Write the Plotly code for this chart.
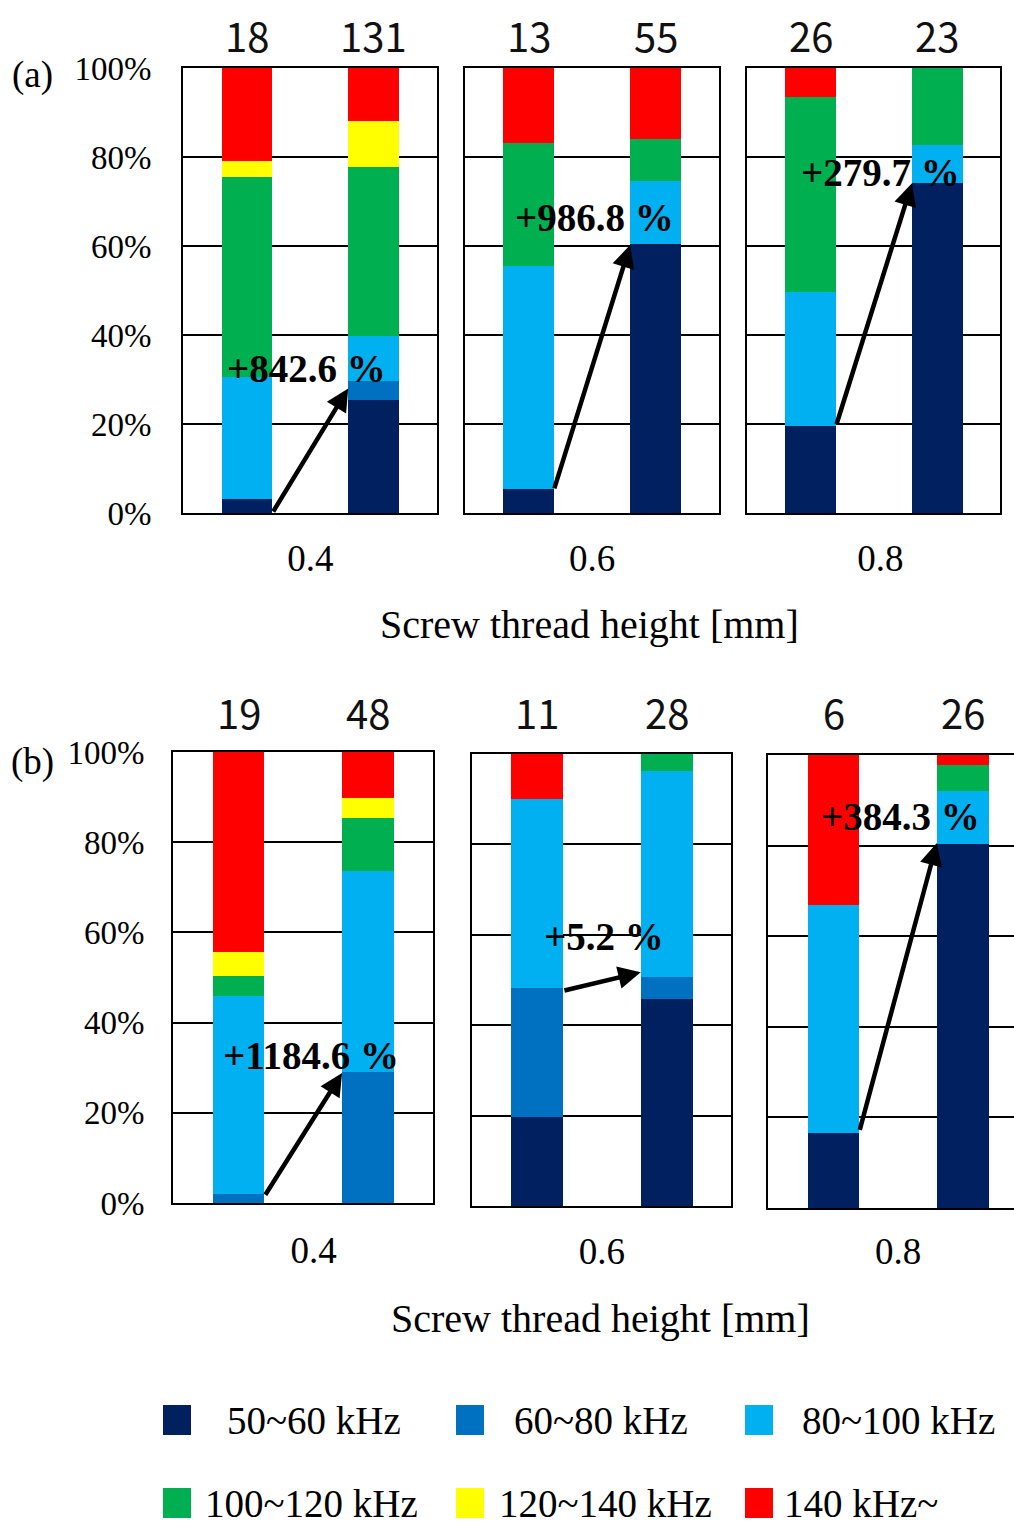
import plotly.graph_objects as go

# ---------------- data ----------------
bands = ["50~60 kHz", "60~80 kHz", "80~100 kHz", "100~120 kHz", "120~140 kHz", "140 kHz~"]
colors = ["#002060", "#0070C0", "#00B0F0", "#00B050", "#FFFF00", "#FF0000"]
thread_heights = ["0.4", "0.6", "0.8"]
row_tags = ["(a)", "(b)"]
x_title = "Screw thread height [mm]"

# share [%] per band; order: (a)0.4 L, R, (a)0.6 L, R, (a)0.8 L, R, (b)0.4 L, R, (b)0.6 L, R, (b)0.8 L, R
share_50_60 = [3.1, 25.5, 5.5, 60.4, 19.6, 74.1, 0.0, 0.0, 19.8, 45.9, 16.5, 80.4]
share_60_80 = [0.0, 4.1, 0.0, 0.0, 0.0, 0.0, 2.1, 29.0, 28.5, 4.8, 0.0, 0.0]
share_80_100 = [27.5, 10.2, 50.1, 14.3, 30.0, 8.6, 43.8, 44.6, 41.8, 45.6, 50.3, 11.7]
share_100_120 = [44.8, 37.9, 27.6, 9.3, 43.8, 17.3, 4.5, 11.8, 0.0, 3.7, 0.0, 5.6]
share_120_140 = [3.6, 10.4, 0.0, 0.0, 0.0, 0.0, 5.2, 4.5, 0.0, 0.0, 0.0, 0.0]
share_140_up = [21.0, 11.9, 16.8, 16.0, 6.6, 0.0, 44.4, 10.1, 9.9, 0.0, 33.2, 2.3]
band_shares = [share_50_60, share_60_80, share_80_100, share_100_120, share_120_140, share_140_up]

counts = [18, 131, 13, 55, 26, 23, 19, 48, 11, 28, 6, 26]
change_labels = ["+842.6 %", "+986.8 %", "+279.7 %", "+1184.6 %", "+5.2 %", "+384.3 %"]
arrow_from = [0.0, 5.2, 19.6, 1.5, 47.6, 16.9]   # % level at left bar
arrow_to = [28.0, 60.2, 74.1, 28.8, 51.7, 80.6]   # % level at right bar

# ---------------- layout constants ----------------
W, H = 1014, 1528
def fx(px):
    return px / W
def fy(py):
    return 1 - py / H

# panel frames in pixels: (x0, x1, ytop, ybottom)
frames = [(183, 437, 68, 513), (465, 719, 68, 513), (747, 1000, 68, 513),
          (173, 433, 752, 1203), (472, 731, 754, 1206), (768, 1014, 755, 1208)]
xranges = [[-0.506, 1.502], [-0.5, 1.5], [-0.504, 1.496],
           [-0.506, 1.502], [-0.501, 1.496], [-0.507, 1.397]]
tick_pos = [0.5, 0.5, 0.55, 0.58, 0.5, 0.5]
xtick_standoff = [12, 12, 12, 14, 12, 10]
label_pos = [(0.474, 32.4), (0.516, 66.3), (0.548, 76.6), (0.56, 32.6), (0.517, 59.7), (0.522, 86.4)]
bar_w = 0.4
serif = "Liberation Serif, Times New Roman, serif"

fig = go.Figure()
for p in range(6):
    sfx = "" if p == 0 else str(p + 1)
    for b in range(6):
        fig.add_trace(go.Bar(
            x=[0, 1], y=band_shares[b][2 * p:2 * p + 2], name=bands[b],
            marker=dict(color=colors[b], line=dict(width=0)),
            width=bar_w, xaxis="x" + sfx, yaxis="y" + sfx,
            showlegend=False))

layout = dict(template="none", width=W, height=H, autosize=False,
              margin=dict(l=0, r=0, t=0, b=0, pad=0),
              paper_bgcolor="white", plot_bgcolor="white",
              barmode="stack", showlegend=False,
              font=dict(family=serif, color="black"))
annotations = []
shapes = []
for p in range(6):
    sfx = "" if p == 0 else str(p + 1)
    x0, x1, yt, yb = frames[p]
    left = p in (0, 3)
    layout["xaxis" + sfx] = dict(
        domain=[fx(x0), fx(x1)], range=xranges[p], anchor="y" + sfx, automargin=False,
        showgrid=False, zeroline=False, showline=True, linecolor="black", linewidth=2,
        mirror=True, ticks="", tickvals=[tick_pos[p]], ticktext=[thread_heights[p % 3]],
        tickfont=dict(family=serif, size=37, color="black"),
        ticklabelstandoff=xtick_standoff[p], fixedrange=True)
    layout["yaxis" + sfx] = dict(
        domain=[fy(yb), fy(yt)], range=[0, 100], anchor="x" + sfx, automargin=False,
        tickvals=[0, 20, 40, 60, 80, 100], ticktext=[f"{v}%" for v in range(0, 101, 20)],
        showticklabels=left, ticks="",
        tickfont=dict(family=serif, size=33, color="black"),
        ticklabelstandoff=(23 if p == 0 else 20),
        showgrid=True, gridcolor="black", gridwidth=2, zeroline=False,
        showline=True, linecolor="black", linewidth=2, mirror=(p != 5),
        fixedrange=True)
    xr = "x" + sfx
    yr = "y" + sfx
    # counts above bars
    for k in range(2):
        annotations.append(dict(
            x=k, y=fy(35 if p < 3 else 712), xref=xr, yref="paper",
            text=str(counts[2 * p + k]), showarrow=False,
            font=dict(family="Noto Sans CJK JP, Noto Sans, sans-serif", size=40, color="#111"),
            xanchor="center", yanchor="middle"))
    # arrow
    annotations.append(dict(
        x=1 - bar_w / 2, y=arrow_to[p], ax=bar_w / 2, ay=arrow_from[p],
        xref=xr, yref=yr, axref=xr, ayref=yr, text="", showarrow=True,
        arrowhead=2, arrowsize=1.0, arrowwidth=4.5, arrowcolor="black", standoff=0))
    # change label
    annotations.append(dict(
        x=label_pos[p][0], y=label_pos[p][1], xref=xr, yref=yr,
        text="<b>" + change_labels[p] + "</b>", showarrow=False,
        font=dict(family=serif, size=39, color="black"),
        xanchor="center", yanchor="middle"))

# row tags and axis titles
for r, (ytag, xt, yt_) in enumerate([(75, 589, 624), (762, 600, 1318)]):
    annotations.append(dict(x=fx(32), y=fy(ytag), xref="paper", yref="paper",
                            text=row_tags[r], showarrow=False,
                            font=dict(family=serif, size=37, color="black"),
                            xanchor="center", yanchor="middle"))
    annotations.append(dict(x=fx(xt), y=fy(yt_), xref="paper", yref="paper",
                            text=x_title, showarrow=False,
                            font=dict(family=serif, size=40, color="black"),
                            xanchor="center", yanchor="middle"))

# manual legend
sq_x = [163, 456, 745]
txt_x = [[225, 512, 800], [203, 497, 782]]
row_y = [1420, 1503]
for i, name in enumerate(bands):
    r, c = divmod(i, 3)
    shapes.append(dict(type="rect", xref="paper", yref="paper",
                       x0=fx(sq_x[c]), x1=fx(sq_x[c] + 28),
                       y0=fy(row_y[r] + 15), y1=fy(row_y[r] - 15),
                       fillcolor=colors[i], line=dict(width=0)))
    annotations.append(dict(x=fx(txt_x[r][c]), y=fy(row_y[r]), xref="paper", yref="paper",
                            text=name, showarrow=False,
                            font=dict(family=serif, size=39, color="black"),
                            xanchor="left", yanchor="middle"))

layout["annotations"] = annotations
layout["shapes"] = shapes
fig.update_layout(**layout)
fig.write_html("out.html")
